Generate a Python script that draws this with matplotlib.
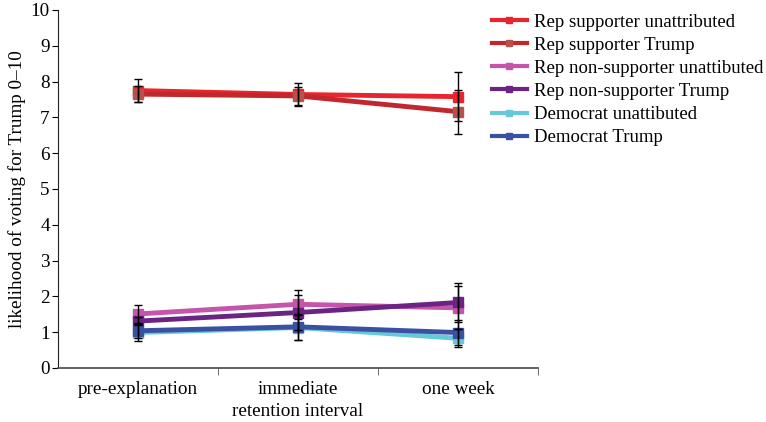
import matplotlib
matplotlib.use("Agg")
import matplotlib.pyplot as plt
import numpy as np

plt.rcParams['font.family'] = ['Liberation Serif', 'DejaVu Serif']

categories = ["pre-explanation", "immediate", "one week"]
series_names = ["Rep supporter unattributed", "Rep supporter Trump",
                "Rep non-supporter unattibuted", "Rep non-supporter Trump",
                "Democrat unattibuted", "Democrat Trump"]
rep_sup_unattr = [7.75, 7.64, 7.58]
rep_sup_unattr_err = [0.31, 0.31, 0.69]
rep_sup_trump = [7.65, 7.60, 7.16]
rep_sup_trump_err = [0.22, 0.25, 0.61]
rep_non_unattr = [1.51, 1.78, 1.68]
rep_non_unattr_err = [0.25, 0.40, 0.60]
rep_non_trump = [1.31, 1.55, 1.83]
rep_non_trump_err = [0.12, 0.49, 0.54]
dem_unattr = [0.99, 1.13, 0.83]
dem_unattr_err = [0.24, 0.35, 0.25]
dem_trump = [1.04, 1.15, 0.99]
dem_trump_err = [0.19, 0.37, 0.35]

values = [rep_sup_unattr, rep_sup_trump, rep_non_unattr, rep_non_trump, dem_unattr, dem_trump]
errors = [rep_sup_unattr_err, rep_sup_trump_err, rep_non_unattr_err, rep_non_trump_err,
          dem_unattr_err, dem_trump_err]
line_colors = ["#e8242c", "#c0282d", "#c455aa", "#6c2484", "#66c9da", "#3a51a3"]
marker_colors = ["#e8242c", "#b5534b", "#c455aa", "#6c2484", "#66c9da", "#3a51a3"]

FS = 13.8
fig = plt.figure(figsize=(7.66, 4.22), dpi=100)
ax = fig.add_axes([58/766, 1 - 368/422, 480/766, 358/422])

x = np.arange(len(categories)) + 0.5
handles = []
for vals, errs, lc, mc, name in zip(values, errors, line_colors, marker_colors, series_names):
    ax.errorbar(x, vals, yerr=errs, fmt='none', ecolor='black', elinewidth=1.0,
                capsize=3, capthick=1.0, zorder=3)
    h, = ax.plot(x, vals, color=lc, lw=3.5, marker='s', ms=6.5,
                 markerfacecolor=mc, markeredgecolor=mc, label=name, zorder=2)
    handles.append(h)

ax.set_xlim(0, 3)
ax.set_ylim(0, 10)
ax.set_yticks(range(0, 11))
ax.set_xticks(x)
ax.set_xticklabels(categories, fontsize=FS)
ax.set_xticks([1, 2, 3], minor=True)
ax.tick_params(axis='x', which='major', length=0, pad=9)
ax.tick_params(axis='x', which='minor', length=5, direction='out', color='#555555')
ax.tick_params(axis='y', labelsize=FS, length=4, direction='out', pad=2)
for s in ['top', 'right']:
    ax.spines[s].set_visible(False)
ax.spines['bottom'].set_color('#555555')
ax.spines['bottom'].set_linewidth(1.3)
ax.spines['left'].set_color('#222222')
ax.set_xlabel("retention interval", fontsize=FS, labelpad=4)
ax.set_ylabel("likelihood of voting for Trump 0\u201310", fontsize=FS, labelpad=3)

leg_handles = []
for lc, mc in zip(line_colors, marker_colors):
    lh, = ax.plot([], [], color=lc, lw=3, marker='s', ms=4,
                  markerfacecolor=mc, markeredgecolor=mc)
    leg_handles.append(lh)
fig.legend(handles=leg_handles, labels=series_names, loc='upper left',
           bbox_to_anchor=(484/766, 1 - 6/422),
           frameon=False, fontsize=13.5, handlelength=1.9, handletextpad=0.35,
           labelspacing=0.32, borderaxespad=0)

fig.savefig("out.png", dpi=100)
